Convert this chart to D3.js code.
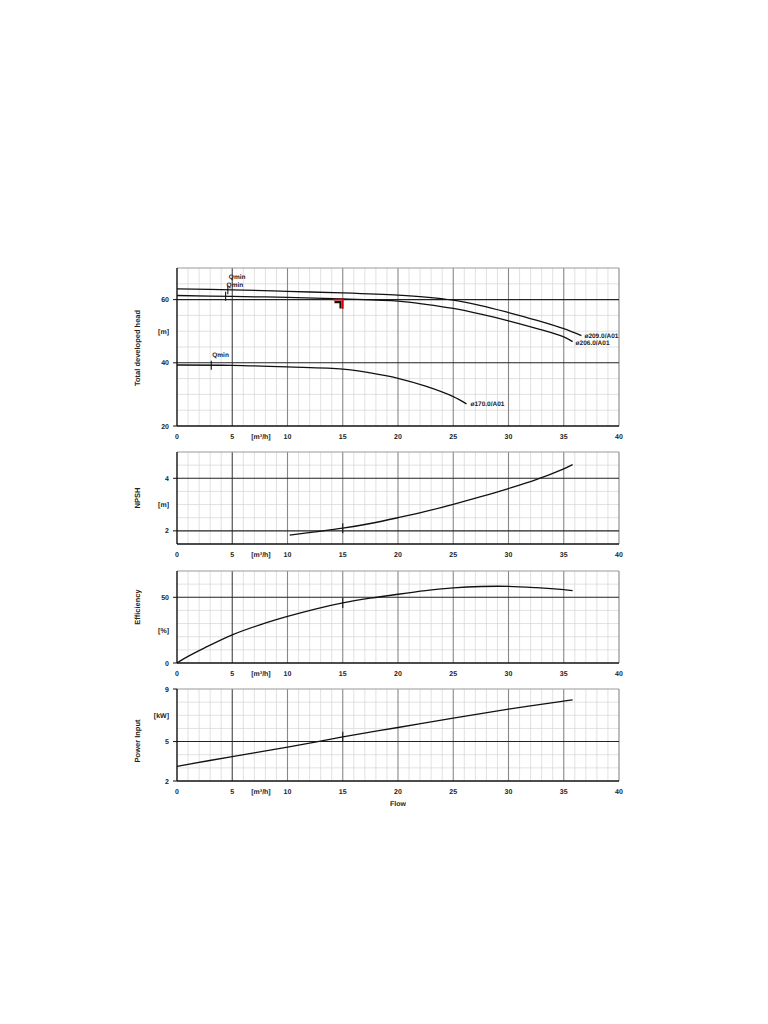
<!DOCTYPE html>
<html>
<head>
<meta charset="utf-8">
<script src="https://cdn.jsdelivr.net/npm/d3@7"></script>
<style>
  body { margin: 0; background: #fff; }
  text { font-family: "Liberation Sans", Arial, sans-serif; font-weight: bold; fill: #222; text-rendering: geometricPrecision; }
</style>
</head>
<body>
<svg id="chart" width="768" height="1024"></svg>
<script>
// flow axis
const flowTicks = [0, 5, 10, 15, 20, 25, 30, 35, 40];

// head curves (impeller diameters)
const q209 = [0, 5, 10, 15, 20, 22.5, 25, 27.5, 30, 32.5, 35, 36.6];
const h209 = [63.4, 63.1, 62.6, 62.1, 61.4, 60.8, 59.8, 58.1, 55.9, 53.5, 50.8, 48.6];
const q206 = [0, 5, 10, 15, 20, 22.5, 25, 27.5, 30, 32.5, 35, 35.8];
const h206 = [61.3, 61.0, 60.7, 60.2, 59.5, 58.5, 57.2, 55.4, 53.3, 50.9, 48.2, 46.7];
const q170 = [0, 5, 10, 15, 17.5, 20, 22.5, 25, 26.2];
const h170 = [39.3, 39.2, 38.7, 38.0, 36.8, 35.1, 32.6, 29.3, 27.0];
const qminFlow = [4.6, 4.4, 3.1];

// NPSH
const qNpsh = [10.2, 12.5, 15, 17.5, 20, 22.5, 25, 27.5, 30, 32.5, 35, 35.8];
const npsh = [1.84, 1.96, 2.10, 2.28, 2.50, 2.74, 3.01, 3.30, 3.61, 3.95, 4.36, 4.52];

// efficiency
const qEff = [0, 1, 2.5, 5, 7.5, 10, 12.5, 15, 17.5, 20, 22.5, 25, 27.5, 30, 32.5, 35, 35.8];
const eff = [0, 5, 11.5, 21.4, 29.0, 35.4, 41, 45.7, 49.3, 52.3, 55, 57.1, 58.2, 58.3, 57.3, 55.8, 55.1];

// power input
const qPow = [0, 5, 10, 15, 20, 25, 30, 35, 35.8];
const pow = [3.12, 3.86, 4.57, 5.36, 6.07, 6.79, 7.47, 8.08, 8.18];

const dutyFlow = 15;

const svg = d3.select("#chart");
const left = 177, right = 619;
const x = d3.scaleLinear().domain([0, 40]).range([left, right]);

const panels = [
	{ title: "Total developed head", unit: "[m]", unitAt: 50, top: 268, bottom: 426, domain: [20, 70], minor: 5, labels: [20, 40, 60], major: [40, 60], titleY: 348 },
	{ title: "NPSH", unit: "[m]", unitAt: 3, top: 452, bottom: 544, domain: [1.5, 5], minor: 0.5, labels: [2, 4], major: [2, 4], titleY: 498 },
	{ title: "Efficiency", unit: "[%]", unitAt: 25, top: 571, bottom: 663, domain: [0, 70], minor: 10, labels: [0, 50], major: [50], titleY: 607 },
	{ title: "Power Input", unit: "[kW]", unitAt: 7, top: 689, bottom: 781, domain: [2, 9], minor: 1, labels: [2, 5, 9], major: [5], titleY: 741 }
];

const line = (xs, ys, y) => d3.line()
	.x(d => x(d[0]))
	.y(d => y(d[1]))
	.curve(d3.curveCatmullRom.alpha(0.5))(xs.map((v, i) => [v, ys[i]]));

panels.forEach(p => {
	const y = d3.scaleLinear().domain(p.domain).range([p.bottom, p.top]);
	p.y = y;
	const g = svg.append("g");

	// minor vertical grid
	const minorX = d3.range(0, 41, 1).filter(v => v % 5 !== 0);
	g.selectAll("line.mx").data(minorX).enter().append("line")
		.attr("x1", d => x(d)).attr("x2", d => x(d))
		.attr("y1", p.top).attr("y2", p.bottom)
		.attr("stroke", "#d4d4d4").attr("stroke-width", 0.7);

	// minor horizontal grid
	const n = Math.round((p.domain[1] - p.domain[0]) / p.minor);
	const minorY = d3.range(1, n).map(i => p.domain[0] + i * p.minor).filter(v => !p.major.includes(v));
	g.selectAll("line.my").data(minorY).enter().append("line")
		.attr("x1", left).attr("x2", right)
		.attr("y1", d => y(d)).attr("y2", d => y(d))
		.attr("stroke", "#d4d4d4").attr("stroke-width", 0.7);

	// major vertical grid
	g.selectAll("line.Mx").data(flowTicks.slice(1)).enter().append("line")
		.attr("x1", d => x(d)).attr("x2", d => x(d))
		.attr("y1", p.top).attr("y2", p.bottom)
		.attr("stroke", d => d === 5 ? "#444" : "#888").attr("stroke-width", 1.1);

	// top border
	g.append("line")
		.attr("x1", left).attr("x2", right)
		.attr("y1", p.top).attr("y2", p.top)
		.attr("stroke", "#999").attr("stroke-width", 1.1);

	// major horizontal grid
	g.selectAll("line.My").data(p.major).enter().append("line")
		.attr("x1", left).attr("x2", right)
		.attr("y1", d => y(d)).attr("y2", d => y(d))
		.attr("stroke", "#222").attr("stroke-width", 1.1);

	// axes
	g.append("line").attr("x1", left).attr("x2", right)
		.attr("y1", p.bottom).attr("y2", p.bottom)
		.attr("stroke", "#111").attr("stroke-width", 1.4);
	g.append("line").attr("x1", left).attr("x2", left)
		.attr("y1", p.top).attr("y2", p.bottom)
		.attr("stroke", "#111").attr("stroke-width", 1.4);

	// y ticks and labels
	g.selectAll("line.yt").data(p.labels).enter().append("line")
		.attr("x1", left - 4).attr("x2", left)
		.attr("y1", d => y(d)).attr("y2", d => y(d))
		.attr("stroke", "#111").attr("stroke-width", 1);
	g.selectAll("text.yl").data(p.labels).enter().append("text")
		.attr("x", left - 8).attr("y", d => y(d) + 2.5)
		.attr("text-anchor", "end").attr("font-size", "7px")
		.text(d => d);
	g.append("text")
		.attr("x", left - 8).attr("y", y(p.unitAt) + 2.5)
		.attr("text-anchor", "end").attr("font-size", "7px")
		.text(p.unit);

	// x labels
	g.selectAll("text.xl").data(flowTicks).enter().append("text")
		.attr("x", d => x(d)).attr("y", p.bottom + 13)
		.attr("text-anchor", "middle").attr("font-size", "7px")
		.text(d => d);
	g.append("text")
		.attr("x", x(7.6)).attr("y", p.bottom + 13)
		.attr("text-anchor", "middle").attr("font-size", "7px")
		.text("[m³/h]");

	// title
	g.append("text")
		.attr("transform", `translate(140,${p.titleY}) rotate(-90)`)
		.attr("text-anchor", "middle").attr("font-size", "7.5px")
		.text(p.title);
});

const [pH, pN, pE, pP] = panels;
const curve = d => svg.append("path")
	.attr("d", d).attr("fill", "none")
	.attr("stroke", "#111").attr("stroke-width", 1.3);

// head curves
curve(line(q209, h209, pH.y));
curve(line(q206, h206, pH.y));
curve(line(q170, h170, pH.y));

const headLabels = [
	{ text: "ø209.0/A01", q: q209, h: h209, dx: 3, dy: 2 },
	{ text: "ø206.0/A01", q: q206, h: h206, dx: 3, dy: 3 },
	{ text: "ø170.0/A01", q: q170, h: h170, dx: 4, dy: 2.5 }
];
headLabels.forEach(l => {
	const i = l.q.length - 1;
	svg.append("text")
		.attr("x", x(l.q[i]) + l.dx).attr("y", pH.y(l.h[i]) + l.dy)
		.attr("font-size", "6.5px").text(l.text);
});

// Qmin marks
const qminCurves = [[q209, h209], [q206, h206], [q170, h170]];
const interp = (qs, hs, q) => {
	const i = d3.bisectRight(qs, q) - 1;
	const t = (q - qs[i]) / (qs[i + 1] - qs[i]);
	return hs[i] + t * (hs[i + 1] - hs[i]);
};
const qminLabelDy = [-11, -9.5, -8];
qminFlow.forEach((q, k) => {
	const [qs, hs] = qminCurves[k];
	const yy = pH.y(interp(qs, hs, q));
	svg.append("line")
		.attr("x1", x(q)).attr("x2", x(q))
		.attr("y1", yy - 4.5).attr("y2", yy + 4.5)
		.attr("stroke", "#111").attr("stroke-width", 1.1);
	svg.append("text")
		.attr("x", x(q) + 1).attr("y", yy + qminLabelDy[k])
		.attr("font-size", "6.5px").text("Qmin");
});

// duty point on head
const hDuty = 60;
svg.append("path")
	.attr("d", `M${x(dutyFlow - 0.75)},${pH.y(hDuty) + 2.5}H${x(dutyFlow - 0.2)}V${pH.y(hDuty - 2.8)}`)
	.attr("fill", "none").attr("stroke", "#111").attr("stroke-width", 2.2);
svg.append("path")
	.attr("d", `M${x(dutyFlow - 0.85)},${pH.y(hDuty)}H${x(dutyFlow)}V${pH.y(hDuty - 2.9)}`)
	.attr("fill", "none").attr("stroke", "#e00000").attr("stroke-width", 1.8);

// NPSH, efficiency, power curves
curve(line(qNpsh, npsh, pN.y));
curve(line(qEff, eff, pE.y));
curve(line(qPow, pow, pP.y));

// duty point ticks
[[pN, qNpsh, npsh], [pE, qEff, eff], [pP, qPow, pow]].forEach(([p, qs, vs]) => {
	const yy = p.y(interp(qs, vs, dutyFlow));
	svg.append("line")
		.attr("x1", x(dutyFlow)).attr("x2", x(dutyFlow))
		.attr("y1", yy - 5).attr("y2", yy + 5)
		.attr("stroke", "#111").attr("stroke-width", 1.1);
});

// flow label
svg.append("text")
	.attr("x", x(20)).attr("y", pP.bottom + 25)
	.attr("text-anchor", "middle").attr("font-size", "7px")
	.text("Flow");
</script>
</body>
</html>
